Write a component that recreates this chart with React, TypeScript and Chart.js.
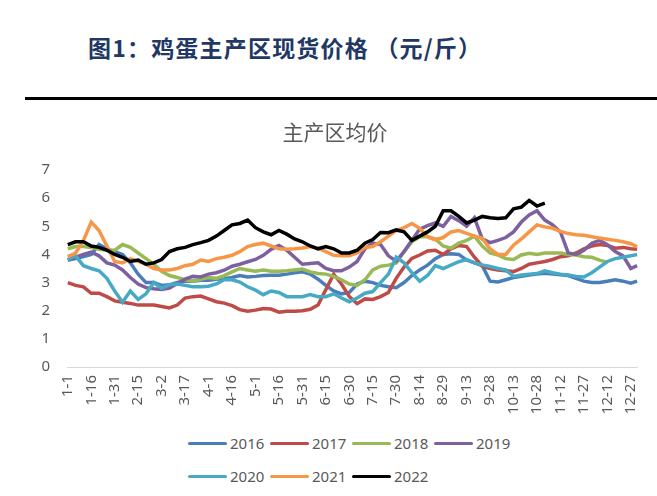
import React, { useEffect, useRef } from "react";
import { Chart, registerables } from "chart.js";

Chart.register(...registerables);

// Sample dates (every 5 days, month-day)
const categories: string[] = [
  "1-1", "1-6", "1-11", "1-16", "1-21", "1-26", "1-31", "2-5", "2-10", "2-15",
  "2-20", "2-25", "3-2", "3-7", "3-12", "3-17", "3-22", "3-27", "4-1", "4-6",
  "4-11", "4-16", "4-21", "4-26", "5-1", "5-6", "5-11", "5-16", "5-21", "5-26",
  "5-31", "6-5", "6-10", "6-15", "6-20", "6-25", "6-30", "7-5", "7-10", "7-15",
  "7-20", "7-25", "7-30", "8-4", "8-9", "8-14", "8-19", "8-24", "8-29", "9-3",
  "9-8", "9-13", "9-18", "9-23", "9-28", "10-3", "10-8", "10-13", "10-18", "10-23",
  "10-28", "11-2", "11-7", "11-12", "11-17", "11-22", "11-27", "12-2", "12-7", "12-12",
  "12-17", "12-22", "12-27", "12-31",
];

const tickLabels: string[] = [
  "1-1", "1-16", "1-31", "2-15", "3-2", "3-17", "4-1", "4-16", "5-1", "5-16",
  "5-31", "6-15", "6-30", "7-15", "7-30", "8-14", "8-29", "9-13", "9-28", "10-13",
  "10-28", "11-12", "11-27", "12-12", "12-27",
];

const y2016 = [
  3.8, 3.85, 3.92, 4.0, 4.35, 4.2, 4.1, 4.0, 3.7, 3.3,
  3.0, 3.0, 2.9, 2.92, 3.0, 3.05, 3.05, 3.08, 3.08, 3.12,
  3.14, 3.18, 3.25, 3.2, 3.22, 3.25, 3.26, 3.26, 3.3, 3.35,
  3.38, 3.3, 3.12, 2.9, 2.7, 2.6, 2.65, 2.95, 3.05, 3.0,
  2.9, 2.85, 2.82, 3.0, 3.25, 3.45, 3.62, 3.85, 4.0, 4.02,
  4.0, 3.8, 3.7, 3.6, 3.05, 3.02, 3.1, 3.18, 3.22, 3.27,
  3.3, 3.33, 3.3, 3.28, 3.25, 3.15, 3.05, 3.0, 3.0, 3.05,
  3.1, 3.05, 2.98, 3.05,
];
const y2017 = [
  3.0, 2.9, 2.85, 2.62, 2.62, 2.5, 2.35, 2.3, 2.26, 2.2,
  2.2, 2.2, 2.15, 2.1, 2.2, 2.45, 2.5, 2.52, 2.42, 2.32,
  2.27, 2.18, 2.04, 1.98, 2.02, 2.08, 2.06, 1.95, 1.98, 1.98,
  2.0, 2.05, 2.2, 2.75, 3.3, 2.95, 2.5, 2.25, 2.42, 2.4,
  2.5, 2.65, 3.15, 3.55, 3.86, 3.98, 4.12, 4.15, 4.0, 4.2,
  4.32, 4.28, 3.9, 3.58, 3.5, 3.45, 3.42, 3.39, 3.5, 3.65,
  3.7, 3.75, 3.82, 3.92, 3.95, 4.05, 4.2, 4.3, 4.35, 4.32,
  4.22, 4.25, 4.2, 4.18,
];
const y2018 = [
  4.2, 4.28, 4.28, 4.25, 4.18, 4.15, 4.15, 4.35, 4.25, 4.05,
  3.85, 3.65, 3.4, 3.25, 3.18, 3.1, 3.05, 3.12, 3.18, 3.15,
  3.25, 3.38, 3.5, 3.45, 3.4, 3.45, 3.4, 3.4, 3.42, 3.45,
  3.48, 3.38, 3.32, 3.3, 3.22, 3.1, 2.95, 2.9, 3.1, 3.45,
  3.58, 3.62, 3.7, 4.1, 4.45, 4.63, 4.64, 4.55, 4.3, 4.22,
  4.4, 4.5, 4.65, 4.3, 4.05, 3.98, 3.85, 3.82, 3.98, 4.04,
  4.0, 4.05, 4.05, 4.05, 4.0, 3.98, 3.92, 3.9, 3.8, 3.72,
  null, null, null, null,
];
const y2019 = [
  3.8, 3.9, 4.0, 4.08, 3.95, 3.7, 3.62, 3.45, 3.18, 2.95,
  2.82, 2.78, 2.75, 2.8, 2.97, 3.12, 3.22, 3.2, 3.3, 3.35,
  3.44, 3.58, 3.65, 3.74, 3.82, 3.97, 4.18, 4.32, 4.15, 3.9,
  3.65, 3.68, 3.7, 3.5, 3.42, 3.42, 3.55, 3.75, 4.2, 4.4,
  4.35, 3.95, 3.76, 4.1, 4.5, 4.9, 5.02, 5.12, 5.0, 5.35,
  5.2, 5.0, 5.3, 4.55, 4.42, 4.5, 4.6, 4.8, 5.15, 5.4,
  5.55, 5.22, 5.05, 4.8, 4.05, 4.0, 4.15, 4.4, 4.5, 4.35,
  4.1, 3.95, 3.5, 3.6,
];
const y2020 = [
  3.82, 3.95, 3.6, 3.5, 3.42, 3.15, 2.7, 2.3, 2.7, 2.4,
  2.6, 3.0, 2.8, 2.92, 2.95, 2.9, 2.85, 2.85, 2.87, 2.95,
  3.1, 3.1, 3.02, 2.85, 2.73, 2.57, 2.7, 2.65, 2.5, 2.5,
  2.5, 2.57, 2.5, 2.5, 2.6, 2.45, 2.32, 2.45, 2.62, 2.68,
  3.0, 3.3, 3.9, 3.7, 3.35, 3.05, 3.25, 3.6, 3.5, 3.62,
  3.74, 3.82, 3.7, 3.63, 3.57, 3.5, 3.45, 3.22, 3.27, 3.3,
  3.32, 3.42, 3.35, 3.3, 3.27, 3.22, 3.2, 3.35, 3.55, 3.75,
  3.85, 3.9, 3.95, 4.0,
];
const y2021 = [
  3.92, 4.05, 4.5, 5.15, 4.85, 4.3, 3.75, 3.7, 3.85, 3.75,
  3.65, 3.5, 3.45, 3.45, 3.5, 3.6, 3.65, 3.8, 3.75, 3.85,
  3.9, 3.97, 4.1, 4.28, 4.35, 4.4, 4.3, 4.2, 4.18, 4.2,
  4.23, 4.28, 4.22, 4.1, 3.97, 3.95, 3.95, 4.05, 4.25, 4.28,
  4.45, 4.65, 4.85, 4.95, 5.1, 4.93, 4.62, 4.52, 4.6, 4.8,
  4.85, 4.75, 4.65, 4.57, 4.2, 4.0, 4.0, 4.33, 4.55, 4.8,
  5.05, 4.98, 4.93, 4.82, 4.74, 4.7, 4.68, 4.63, 4.58, 4.54,
  4.5, 4.45, 4.38, 4.28,
];
const y2022 = [
  4.35, 4.45, 4.45, 4.3, 4.25, 4.15, 4.0, 3.9, 3.75, 3.8,
  3.65, 3.7, 3.82, 4.1, 4.2, 4.25, 4.35, 4.42, 4.5, 4.65,
  4.85, 5.05, 5.1, 5.22, 4.95, 4.8, 4.7, 4.85, 4.72, 4.55,
  4.45, 4.3, 4.2, 4.28, 4.2, 4.05, 4.05, 4.15, 4.4, 4.53,
  4.78, 4.77, 4.87, 4.8, 4.5, 4.65, 4.8, 5.0, 5.55, 5.55,
  5.35, 5.12, 5.22, 5.35, 5.3, 5.28, 5.3, 5.62, 5.68, 5.92,
  5.72, 5.82, null, null, null, null, null, null, null, null,
  null, null, null, null,
];

const seriesNames = ["2016", "2017", "2018", "2019", "2020", "2021", "2022"];
const seriesValues = [y2016, y2017, y2018, y2019, y2020, y2021, y2022];
const seriesColors = ["#4A7EBB", "#BE4B48", "#98B954", "#7D60A0", "#46AAC5", "#F79646", "#000000"];

const monthStart = [0, 31, 59, 90, 120, 151, 181, 212, 243, 273, 304, 334];
function dayOfYear(md: string): number {
  const [m, d] = md.split("-").map(Number);
  return monthStart[m - 1] + d - 1;
}

const GRAY = "#595959";
const TICK_FONT = "'Noto Sans', 'DejaVu Sans', sans-serif";

export default function App() {
  const canvasRef = useRef<HTMLCanvasElement | null>(null);

  useEffect(() => {
    if (!canvasRef.current) return;
    const tickMap = new Map<number, string>();
    tickLabels.forEach((l) => tickMap.set(dayOfYear(l), l));

    const chart = new Chart(canvasRef.current, {
      type: "line",
      data: {
        datasets: seriesNames.map((name, si) => ({
          label: name,
          data: categories.map((c, i) => ({ x: dayOfYear(c), y: seriesValues[si][i] as number | null })),
          borderColor: seriesColors[si],
          backgroundColor: seriesColors[si],
          borderWidth: 3.5,
          pointRadius: 0,
          tension: 0,
          fill: false,
          spanGaps: false,
          order: seriesNames.length - 1 - si,
        })),
      },
      options: {
        animation: false,
        responsive: true,
        maintainAspectRatio: false,
        layout: { padding: { left: 0, right: 13, top: 60, bottom: 0 } },
        plugins: {
          legend: { display: false },
          tooltip: { enabled: false },
          title: { display: false },
        },
        scales: {
          x: {
            type: "linear",
            min: -0.5,
            max: 364.5,
            grid: { display: false, drawTicks: false },
            border: { display: true, color: "#D9D9D9", width: 1 },
            afterBuildTicks: (scale: any) => {
              scale.ticks = tickLabels.map((l) => ({ value: dayOfYear(l) }));
            },
            afterFit: (scale: any) => {
              scale.height = 63;
            },
            ticks: {
              autoSkip: false,
              maxRotation: 90,
              minRotation: 90,
              padding: 8,
              color: GRAY,
              font: { family: TICK_FONT, size: 15 },
              callback: (v: any) => tickMap.get(Number(v)) ?? "",
            },
          },
          y: {
            min: 0,
            max: 7,
            grid: { display: false, drawTicks: false },
            border: { display: false },
            afterFit: (scale: any) => {
              scale.width = 67;
            },
            ticks: {
              stepSize: 1,
              padding: 17,
              color: GRAY,
              font: { family: TICK_FONT, size: 15 },
            },
          },
        },
      } as any,
    });
    return () => chart.destroy();
  }, []);

  const legendRows = [
    [0, 1, 2, 3],
    [4, 5, 6],
  ];

  return (
    <div style={{ position: "absolute", left: 0, top: 0, width: 657, height: 496, background: "#fff", overflow: "hidden" }}>
      <div
        style={{
          position: "absolute",
          left: 88,
          top: 33,
          fontFamily: "'Noto Sans CJK SC', sans-serif",
          fontWeight: 700,
          fontSize: 23,
          lineHeight: "28px",
          color: "#1F3864",
          whiteSpace: "nowrap",
          letterSpacing: 1.2,
        }}
      >
        图1：鸡蛋主产区现货价格 （元/斤）
      </div>
      <div style={{ position: "absolute", left: 25, top: 96.5, width: 632, height: 3, background: "#000" }} />
      <div style={{ position: "absolute", left: 0, top: 110, width: 657, height: 320 }}>
        <canvas ref={canvasRef} />
      </div>
      <div
        style={{
          position: "absolute",
          left: 0,
          top: 117,
          width: 670,
          textAlign: "center",
          fontFamily: "'Noto Sans CJK SC', sans-serif",
          fontSize: 21,
          lineHeight: "28px",
          color: GRAY,
          whiteSpace: "nowrap",
        }}
      >
        主产区均价
      </div>
      {legendRows.map((row, ri) =>
        row.map((si, k) => (
          <div
            key={seriesNames[si]}
            style={{
              position: "absolute",
              left: 188 + k * 82,
              top: (ri === 0 ? 443 : 476) - 11,
              height: 22,
              display: "flex",
              alignItems: "center",
              fontFamily: TICK_FONT,
              fontSize: 15,
              color: GRAY,
              whiteSpace: "nowrap",
            }}
          >
            <span style={{ display: "inline-block", width: 39, height: 3, borderRadius: 1.5, background: seriesColors[si], marginRight: 3 }} />
            <span>{seriesNames[si]}</span>
          </div>
        ))
      )}
    </div>
  );
}
